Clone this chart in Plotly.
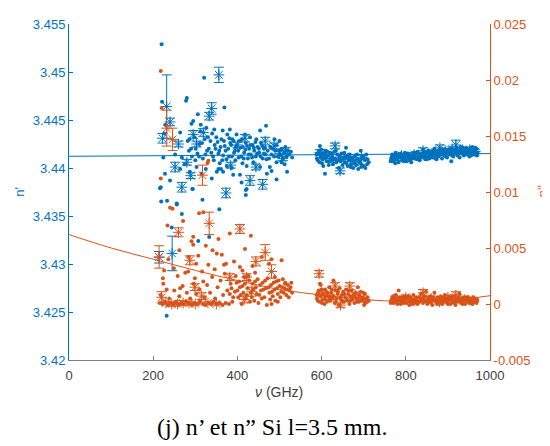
import plotly.graph_objects as go

BLUE = "#0072BD"
ORANGE = "#D95319"

# ---------------- data ----------------
x_ticks = [0, 200, 400, 600, 800, 1000]
x_tick_labels = ["0", "200", "400", "600", "800", "1000"]
n1_ticks = [3.42, 3.425, 3.43, 3.435, 3.44, 3.445, 3.45, 3.455]
n1_tick_labels = ["3.42", "3.425", "3.43", "3.435", "3.44", "3.445", "3.45", "3.455"]
n2_ticks = [-0.005, 0, 0.005, 0.01, 0.015, 0.02, 0.025]
n2_tick_labels = ["-0.005", "0", "0.005", "0.01", "0.015", "0.02", "0.025"]

# fitted curves (GHz, value)
fit_n1_freq = [0, 1000]
fit_n1_val = [3.44122, 3.44150]
fit_n2_freq = [0, 100, 200, 300, 400, 500, 600, 700, 800, 900, 1000]
fit_n2_val = [0.0062, 0.0050, 0.0040, 0.0030, 0.0021, 0.0013, 0.0008, 0.0004, 0.00022, 0.0003, 0.00074]

# n' individual points (GHz, n')
n1_dots = [
    (220, 3.4529), (321, 3.4494), (280, 3.4473), (278, 3.4470), (221, 3.4469), (369, 3.4463),
    (306, 3.4456), (295, 3.4449), (291, 3.4446), (468, 3.4444), (313, 3.4445), (365, 3.4439),
    (454, 3.4439), (264, 3.4437), (229, 3.4445), (226, 3.4436), (398, 3.4435), (418, 3.4435),
    (381, 3.4431), (340, 3.4436), (286, 3.4430), (382, 3.4440),
    (224, 3.4411), (228, 3.4394), (216, 3.4379), (219, 3.4365), (233, 3.4366), (256, 3.4363),
    (317, 3.4367), (357, 3.4357), (294, 3.4378), (240, 3.4387), (339, 3.4389), (351, 3.4396),
    (390, 3.4393), (406, 3.4393), (420, 3.4377), (410, 3.4385), (470, 3.4394), (493, 3.4406),
    (477, 3.4401), (454, 3.4401), (422, 3.4402), (386, 3.4400), (361, 3.4399), (325, 3.4399),
    (303, 3.4401), (264, 3.4399), (275, 3.4404), (287, 3.4396), (315, 3.4394), (268, 3.4411),
    (252, 3.4414), (232, 3.4246), (244, 3.4338), (307, 3.4324), (333, 3.4328), (268, 3.4352),
    (256, 3.4362), (218, 3.4380), (422, 3.4378), (420, 3.4372), (493, 3.4388), (518, 3.4396),
    (481, 3.4397), (355, 3.4399), (366, 3.4396), (293, 3.4378),
    (282, 3.4428), (290, 3.4420), (298, 3.4432), (305, 3.4415), (310, 3.4425), (318, 3.4410),
    (322, 3.4430), (328, 3.4418), (300, 3.4408), (292, 3.4412), (285, 3.4418), (312, 3.4438),
    (326, 3.4442), (332, 3.4420), (336, 3.4428), (342, 3.4412), (346, 3.4424), (350, 3.4432),
    (355, 3.4415), (360, 3.4422), (364, 3.4408), (368, 3.4428), (372, 3.4418), (376, 3.4435),
    (380, 3.4412), (385, 3.4424), (388, 3.4430), (392, 3.4416), (396, 3.4422), (345, 3.4440),
    (358, 3.4405), (375, 3.4402), (395, 3.4408), (402, 3.4418), (405, 3.4428), (409, 3.4412),
    (413, 3.4422), (416, 3.4416), (420, 3.4426), (425, 3.4410), (428, 3.4420), (432, 3.4414),
    (436, 3.4424), (440, 3.4418), (444, 3.4412), (448, 3.4422), (452, 3.4416), (456, 3.4426),
    (460, 3.4410), (463, 3.4420), (467, 3.4414), (430, 3.4432), (445, 3.4430), (412, 3.4405),
    (438, 3.4406), (472, 3.4418), (475, 3.4410), (478, 3.4422), (481, 3.4414), (484, 3.4420),
    (487, 3.4412), (490, 3.4418), (493, 3.4424), (496, 3.4412), (499, 3.4418), (502, 3.4414),
    (505, 3.4420), (508, 3.4410), (511, 3.4416), (514, 3.4422), (517, 3.4412), (520, 3.4418),
    (523, 3.4414), (500, 3.4428), (488, 3.4430), (505, 3.4406), (512, 3.4404), (527, 3.4417),
    (530, 3.4411),
    (301, 3.4420), (309, 3.4412), (316, 3.4426), (324, 3.4414), (330, 3.4432), (338, 3.4416),
    (344, 3.4408), (348, 3.4420), (353, 3.4427), (357, 3.4418), (362, 3.4430), (366, 3.4413),
    (370, 3.4423), (374, 3.4409), (378, 3.4420), (383, 3.4426), (387, 3.4412), (391, 3.4428),
    (394, 3.4418), (399, 3.4424), (403, 3.4411), (407, 3.4421), (411, 3.4430), (415, 3.4410),
    (419, 3.4419), (423, 3.4423), (427, 3.4414), (431, 3.4424), (435, 3.4411), (439, 3.4421),
    (443, 3.4427), (447, 3.4415), (451, 3.4420), (455, 3.4412), (459, 3.4423), (463, 3.4415),
    (466, 3.4421), (469, 3.4409),
    (588, 3.4414), (591, 3.4408), (594, 3.4418), (596, 3.4423), (598, 3.4411), (601, 3.4405),
    (603, 3.4415), (606, 3.4410), (608, 3.4394), (610, 3.4418), (612, 3.4407), (615, 3.4413),
    (617, 3.4403), (620, 3.4416), (622, 3.4409), (625, 3.4412), (627, 3.4404), (630, 3.4417),
    (632, 3.4410), (635, 3.4406), (637, 3.4414), (640, 3.4400), (642, 3.4411), (645, 3.4407),
    (647, 3.4415), (650, 3.4403), (652, 3.4410), (655, 3.4406), (658, 3.4421), (660, 3.4412),
    (662, 3.4402), (665, 3.4408), (667, 3.4414), (670, 3.4404), (672, 3.4410), (675, 3.4400),
    (677, 3.4407), (680, 3.4413), (682, 3.4403), (685, 3.4409), (687, 3.4399), (690, 3.4406),
    (693, 3.4418), (695, 3.4404), (698, 3.4410), (700, 3.4402), (703, 3.4408), (706, 3.4414),
    (708, 3.4404),
    (589, 3.4410), (592, 3.4416), (595, 3.4406), (597, 3.4413), (600, 3.4419), (602, 3.4409),
    (604, 3.4402), (607, 3.4416), (609, 3.4411), (614, 3.4417), (619, 3.4407), (624, 3.4415),
    (629, 3.4409), (634, 3.4418), (639, 3.4408), (644, 3.4413), (649, 3.4409), (654, 3.4416),
    (659, 3.4405), (664, 3.4413), (669, 3.4401), (674, 3.4411), (679, 3.4405), (684, 3.4414),
    (689, 3.4408), (694, 3.4401), (699, 3.4412), (704, 3.4400), (709, 3.4409), (712, 3.4406),
    (765, 3.4410), (768, 3.4414), (771, 3.4407), (773, 3.4412), (776, 3.4416), (778, 3.4409),
    (781, 3.4413), (783, 3.4406), (786, 3.4411), (788, 3.4415), (791, 3.4408), (793, 3.4412),
    (796, 3.4410), (798, 3.4416), (801, 3.4407), (803, 3.4413), (806, 3.4409), (808, 3.4414),
    (811, 3.4411), (813, 3.4406), (816, 3.4412), (818, 3.4416), (821, 3.4410), (823, 3.4414),
    (826, 3.4409), (828, 3.4417), (831, 3.4412), (833, 3.4408), (836, 3.4415), (838, 3.4411),
    (841, 3.4419), (843, 3.4413), (846, 3.4409), (848, 3.4416), (851, 3.4412), (853, 3.4418),
    (856, 3.4410), (858, 3.4414), (861, 3.4417), (863, 3.4411), (866, 3.4415), (868, 3.4420),
    (871, 3.4413), (873, 3.4409), (876, 3.4416), (878, 3.4412), (881, 3.4418), (883, 3.4414),
    (886, 3.4410), (888, 3.4417), (891, 3.4413), (893, 3.4419), (896, 3.4415), (898, 3.4411),
    (901, 3.4418), (903, 3.4414), (906, 3.4420), (908, 3.4407), (911, 3.4416), (913, 3.4412),
    (916, 3.4419), (918, 3.4415), (921, 3.4421), (923, 3.4413), (926, 3.4417), (928, 3.4411),
    (931, 3.4419), (933, 3.4415), (936, 3.4421), (938, 3.4413), (941, 3.4417), (943, 3.4420),
    (946, 3.4414), (948, 3.4418), (951, 3.4412), (953, 3.4420), (956, 3.4416), (958, 3.4422),
    (961, 3.4414), (963, 3.4418), (966, 3.4415), (968, 3.4420), (970, 3.4416),
    (764, 3.4407), (767, 3.4412), (770, 3.4409), (775, 3.4405), (780, 3.4410), (785, 3.4414),
    (790, 3.4411), (795, 3.4407), (800, 3.4413), (805, 3.4415), (810, 3.4408), (815, 3.4410),
    (820, 3.4413), (825, 3.4416), (830, 3.4410), (835, 3.4413), (840, 3.4415), (845, 3.4412),
    (850, 3.4409), (855, 3.4416), (860, 3.4413), (865, 3.4418), (870, 3.4410), (875, 3.4414),
    (880, 3.4416), (885, 3.4419), (890, 3.4415), (895, 3.4412), (900, 3.4416), (905, 3.4417),
    (910, 3.4413), (915, 3.4416), (920, 3.4418), (925, 3.4415), (930, 3.4422), (935, 3.4417),
    (940, 3.4415), (945, 3.4419), (950, 3.4417), (955, 3.4413), (960, 3.4419), (965, 3.4421),
    (969, 3.4413),
]

# n' averaged points with error bars (GHz, n', half-error)
n1_stars = [
    (232, 3.4464, 0.0033), (240, 3.4448, 0.0004), (222, 3.4431, 0.0005), (260, 3.4425, 0.0003),
    (339, 3.4462, 0.0006), (333, 3.4454, 0.0004), (295, 3.4435, 0.0004), (319, 3.4437, 0.0004),
    (303, 3.4425, 0.0003), (418, 3.4431, 0.0004), (466, 3.4428, 0.0004), (487, 3.4423, 0.0003),
    (252, 3.4401, 0.0005), (280, 3.4406, 0.0003), (289, 3.4392, 0.0003), (268, 3.4380, 0.0005),
    (373, 3.4374, 0.0005), (384, 3.4403, 0.0003), (430, 3.4387, 0.0005), (460, 3.4383, 0.0005),
    (444, 3.4401, 0.0003), (400, 3.4424, 0.0003), (356, 3.4497, 0.0008), (214, 3.4307, 0.0006),
    (245, 3.4311, 0.0018), (500, 3.4415, 0.0003), (515, 3.4418, 0.0003), (508, 3.4410, 0.0002),
    (596, 3.4416, 0.0003), (612, 3.4412, 0.0002), (625, 3.4408, 0.0002), (632, 3.4423, 0.0003),
    (644, 3.4397, 0.0003), (655, 3.4412, 0.0002), (668, 3.4409, 0.0002), (680, 3.4406, 0.0002),
    (695, 3.4411, 0.0002), (775, 3.4410, 0.0002), (790, 3.4413, 0.0002), (805, 3.4411, 0.0002),
    (820, 3.4414, 0.0002), (841, 3.4418, 0.0003), (855, 3.4415, 0.0002), (870, 3.4417, 0.0002),
    (881, 3.4421, 0.0003), (895, 3.4418, 0.0002), (910, 3.4420, 0.0002), (919, 3.4424, 0.0005),
    (935, 3.4419, 0.0002), (952, 3.4419, 0.0003), (965, 3.4417, 0.0002),
]

# n'' individual points (GHz, n'')
n2_dots = [
    (218, 0.0208), (220, 0.0175), (331, 0.0128), (329, 0.0126), (218, 0.0112), (240, 0.0086),
    (246, 0.0085), (271, 0.0074), (309, 0.0081), (319, 0.0082), (234, 0.0070), (295, 0.0060),
    (291, 0.0056), (295, 0.0053), (382, 0.0063), (432, 0.0061), (355, 0.0058), (351, 0.0045),
    (341, 0.0048), (418, 0.0049), (307, 0.0043), (283, 0.0029), (331, 0.0035), (368, 0.0035),
    (373, 0.0036), (406, 0.0033), (505, 0.0039), (481, 0.0040), (442, 0.0028), (223, 0.0023),
    (224, 0.0018), (232, 0.0013), (264, 0.0014), (276, 0.0028), (319, 0.0020), (299, 0.0023),
    (489, 0.0024), (513, 0.0018), (481, 0.0000), (496, 0.0002),
    (216, 0.0001), (222, 0.0000), (228, 0.0002), (235, -0.0001), (241, 0.0001), (248, 0.0000),
    (254, 0.0002), (260, -0.0001), (266, 0.0001), (272, 0.0000), (279, 0.0002), (285, 0.0000),
    (292, -0.0001), (298, 0.0001), (305, 0.0000), (311, 0.0002), (318, 0.0000), (324, -0.0001),
    (331, 0.0001), (338, 0.0000), (344, 0.0002), (351, 0.0000), (358, 0.0001), (365, -0.0001),
    (372, 0.0001), (380, 0.0000), (388, 0.0002),
    (218, 0.0008), (226, 0.0030), (238, 0.0005), (250, 0.0012), (258, 0.0025), (262, 0.0007),
    (270, 0.0016), (280, 0.0010), (288, 0.0005), (296, 0.0018), (302, 0.0009), (310, 0.0013),
    (316, 0.0029), (322, 0.0006), (328, 0.0017), (335, 0.0010), (340, 0.0024), (347, 0.0005),
    (353, 0.0015), (360, 0.0021), (366, 0.0008), (370, 0.0027), (376, 0.0012), (384, 0.0018),
    (390, 0.0006), (396, 0.0025),
    (236, 0.0040), (249, 0.0032), (262, 0.0048), (284, 0.0042), (302, 0.0036), (325, 0.0052),
    (346, 0.0031), (363, 0.0044), (392, 0.0038), (412, 0.0030), (436, 0.0034), (458, 0.0042),
    (475, 0.0036),
    (400, 0.0012), (404, 0.0020), (408, 0.0008), (412, 0.0016), (416, 0.0024), (420, 0.0005),
    (424, 0.0014), (428, 0.0021), (432, 0.0010), (436, 0.0018), (440, 0.0003), (444, 0.0015),
    (448, 0.0022), (452, 0.0008), (456, 0.0012), (460, 0.0019), (464, 0.0006), (468, 0.0014),
    (472, 0.0023), (476, 0.0010), (480, 0.0017), (484, 0.0007), (488, 0.0013), (492, 0.0020),
    (496, 0.0009), (500, 0.0016), (504, 0.0011), (508, 0.0022), (512, 0.0014), (516, 0.0008),
    (520, 0.0017), (524, 0.0012), (528, 0.0019), (410, 0.0000), (430, 0.0002), (450, 0.0001),
    (470, -0.0001), (490, 0.0003),
    (382, 0.0009), (386, 0.0014), (394, 0.0011), (398, 0.0019), (402, 0.0006), (406, 0.0015),
    (414, 0.0010), (418, 0.0018), (422, 0.0008), (426, 0.0025), (434, 0.0006), (438, 0.0013),
    (442, 0.0020), (446, 0.0009), (454, 0.0017), (458, 0.0005), (462, 0.0013), (466, 0.0021),
    (474, 0.0015), (478, 0.0004), (482, 0.0011), (486, 0.0019), (494, 0.0014), (498, 0.0021),
    (502, 0.0006), (506, 0.0015), (510, 0.0010), (514, 0.0019), (518, 0.0013), (522, 0.0006),
    (526, 0.0015), (530, 0.0010),
    (588, 0.0008), (591, 0.0003), (593, 0.0012), (596, 0.0018), (598, 0.0017), (601, 0.0001),
    (603, 0.0009), (606, 0.0004), (608, 0.0013), (611, 0.0011), (613, 0.0002), (616, 0.0007),
    (618, 0.0015), (621, 0.0003), (623, 0.0010), (626, 0.0006), (628, 0.0021), (631, 0.0001),
    (633, 0.0012), (636, 0.0005), (638, 0.0009), (641, -0.0001), (643, 0.0014), (646, 0.0004),
    (648, 0.0008), (651, 0.0011), (653, 0.0002), (656, 0.0006), (658, 0.0013), (661, 0.0003),
    (663, 0.0009), (666, 0.0000), (668, 0.0007), (671, 0.0012), (673, 0.0004), (676, 0.0008),
    (678, 0.0001), (681, 0.0010), (683, 0.0005), (686, 0.0015), (688, 0.0002), (691, 0.0007),
    (693, 0.0011), (696, 0.0003), (698, 0.0006), (701, -0.0001), (703, 0.0009), (706, 0.0004),
    (708, 0.0002),
    (589, 0.0005), (592, 0.0010), (595, 0.0002), (597, 0.0007), (600, 0.0013), (602, 0.0004),
    (605, 0.0008), (607, 0.0000), (609, 0.0006), (614, 0.0010), (619, 0.0004), (624, 0.0013),
    (629, 0.0007), (634, 0.0002), (639, 0.0011), (644, 0.0006), (649, 0.0003), (654, 0.0009),
    (659, 0.0005), (664, 0.0012), (669, 0.0003), (674, 0.0006), (679, 0.0009), (684, 0.0002),
    (689, 0.0008), (694, 0.0005), (699, 0.0010), (704, 0.0001), (709, 0.0006), (712, 0.0003),
    (765, 0.0003), (768, 0.0006), (771, 0.0001), (773, 0.0004), (776, 0.0008), (778, 0.0002),
    (781, 0.0005), (783, 0.0012), (786, 0.0003), (788, 0.0000), (791, 0.0006), (793, 0.0002),
    (796, 0.0004), (798, 0.0007), (801, 0.0001), (803, 0.0005), (806, 0.0003), (808, -0.0001),
    (811, 0.0006), (813, 0.0002), (816, 0.0004), (818, 0.0008), (821, 0.0001), (823, 0.0005),
    (826, 0.0003), (828, 0.0000), (831, 0.0006), (833, 0.0002), (836, 0.0009), (838, 0.0004),
    (841, 0.0001), (843, 0.0006), (846, 0.0003), (848, 0.0011), (851, 0.0000), (853, 0.0005),
    (856, 0.0002), (858, 0.0007), (861, 0.0003), (863, -0.0001), (866, 0.0005), (868, 0.0010),
    (871, 0.0002), (873, 0.0004), (876, 0.0006), (878, 0.0001), (881, 0.0003), (883, 0.0007),
    (886, 0.0000), (888, 0.0004), (891, 0.0002), (893, 0.0008), (896, 0.0005), (898, 0.0001),
    (901, 0.0003), (903, 0.0006), (906, 0.0000), (908, 0.0004), (911, 0.0002), (913, 0.0007),
    (916, 0.0003), (918, -0.0001), (921, 0.0005), (923, 0.0002), (926, 0.0004), (928, 0.0009),
    (931, 0.0001), (933, 0.0005), (936, 0.0003), (938, 0.0006), (941, 0.0000), (943, 0.0004),
    (946, 0.0002), (948, 0.0006), (951, 0.0001), (953, 0.0003), (956, 0.0005), (958, 0.0000),
    (961, 0.0004), (963, 0.0002), (966, 0.0005), (968, 0.0001), (970, 0.0003),
    (764, 0.0001), (767, 0.0004), (770, 0.0007), (775, 0.0002), (780, 0.0000), (785, 0.0006),
    (790, 0.0003), (795, 0.0001), (800, 0.0005), (805, 0.0007), (810, 0.0002), (815, 0.0000),
    (820, 0.0004), (825, 0.0006), (830, 0.0002), (835, 0.0005), (840, 0.0003), (845, 0.0007),
    (850, 0.0002), (855, 0.0004), (860, 0.0001), (865, 0.0006), (870, 0.0003), (875, 0.0000),
    (880, 0.0005), (885, 0.0002), (890, 0.0006), (895, 0.0003), (900, 0.0000), (905, 0.0004),
    (910, 0.0006), (915, 0.0001), (920, 0.0003), (925, 0.0006), (930, 0.0002), (935, 0.0000),
    (940, 0.0004), (945, 0.0006), (950, 0.0003), (955, 0.0001), (960, 0.0006), (965, 0.0002),
    (969, 0.0004),
]

# n'' averaged points with error bars (GHz, n'', half-error)
n2_stars = [
    (232, 0.0157, 0.0016), (246, 0.0147, 0.0010), (317, 0.0115, 0.0009), (333, 0.0072, 0.0010),
    (406, 0.0067, 0.0004), (260, 0.0064, 0.0004), (466, 0.0046, 0.0007), (214, 0.0042, 0.0010),
    (287, 0.0039, 0.0004), (444, 0.0038, 0.0004), (481, 0.0029, 0.0006), (382, 0.0024, 0.0003),
    (422, 0.0024, 0.0003), (220, 0.0006, 0.0005), (299, 0.0015, 0.0003), (315, 0.0007, 0.0003),
    (434, 0.0011, 0.0004), (416, 0.0004, 0.0003), (271, 0.0001, 0.0002), (244, 0.0000, 0.0002),
    (230, 0.0001, 0.0001), (258, 0.0000, 0.0001), (285, 0.0001, 0.0001), (300, 0.0000, 0.0001),
    (330, 0.0001, 0.0001), (350, 0.0000, 0.0001), (594, 0.0027, 0.0003), (632, 0.0016, 0.0003),
    (667, 0.0016, 0.0003), (645, -0.0001, 0.0002), (600, 0.0010, 0.0002), (620, 0.0006, 0.0002),
    (680, 0.0008, 0.0002), (700, 0.0004, 0.0002), (780, 0.0004, 0.0002), (800, 0.0006, 0.0002),
    (820, 0.0003, 0.0002), (841, 0.0010, 0.0003), (860, 0.0005, 0.0002), (880, 0.0002, 0.0002),
    (900, 0.0006, 0.0002), (919, 0.0008, 0.0003), (940, 0.0004, 0.0002), (960, 0.0003, 0.0002),
]

# ---------------- figure ----------------
fig = go.Figure()

def col(rows, i):
    return [r[i] for r in rows]

fig.add_trace(go.Scatter(x=fit_n1_freq, y=fit_n1_val, mode="lines",
                         line=dict(color=BLUE, width=1), yaxis="y"))
fig.add_trace(go.Scatter(x=col(n1_dots, 0), y=col(n1_dots, 1), mode="markers",
                         marker=dict(color=BLUE, size=4, line=dict(width=0)), yaxis="y"))
fig.add_trace(go.Scatter(x=col(n1_stars, 0), y=col(n1_stars, 1), mode="markers",
                         marker=dict(symbol="asterisk-open", color=BLUE, size=9,
                                     line=dict(color=BLUE, width=1)),
                         error_y=dict(type="data", array=col(n1_stars, 2), color=BLUE,
                                      thickness=1, width=5), yaxis="y"))

fig.add_trace(go.Scatter(x=fit_n2_freq, y=fit_n2_val, mode="lines",
                         line=dict(color=ORANGE, width=1, shape="spline"), yaxis="y2"))
fig.add_trace(go.Scatter(x=col(n2_dots, 0), y=col(n2_dots, 1), mode="markers",
                         marker=dict(color=ORANGE, size=4, line=dict(width=0)), yaxis="y2"))
fig.add_trace(go.Scatter(x=col(n2_stars, 0), y=col(n2_stars, 1), mode="markers",
                         marker=dict(symbol="asterisk-open", color=ORANGE, size=9,
                                     line=dict(color=ORANGE, width=1)),
                         error_y=dict(type="data", array=col(n2_stars, 2), color=ORANGE,
                                      thickness=1, width=5), yaxis="y2"))

tick_font = dict(family="Liberation Sans, Arial, sans-serif", size=13)

fig.update_layout(
    width=550, height=446,
    margin=dict(l=61, r=68, t=9, b=94),
    paper_bgcolor="white", plot_bgcolor="white",
    showlegend=False,
    xaxis=dict(range=[0, 1000], tickvals=x_ticks, ticktext=x_tick_labels,
               showline=True, linecolor="#7f7f7f", linewidth=1, ticks="inside",
               ticklen=4, tickcolor="#7f7f7f", showgrid=False, zeroline=False,
               ticklabelstandoff=3,
               tickfont=dict(tick_font, color="#404040")),
    yaxis=dict(range=[3.42, 3.455], tickvals=n1_ticks, ticktext=n1_tick_labels,
               showline=True, linecolor=BLUE, linewidth=1, ticks="inside", ticklen=4,
               tickcolor=BLUE, showgrid=False, zeroline=False,
               tickfont=dict(tick_font, color=BLUE)),
    yaxis2=dict(range=[-0.005, 0.025], tickvals=n2_ticks, ticktext=n2_tick_labels,
                overlaying="y", side="right",
                showline=True, linecolor=ORANGE, linewidth=1, ticks="inside", ticklen=4,
                tickcolor=ORANGE, showgrid=False, zeroline=False,
                tickfont=dict(tick_font, color=ORANGE)),
    annotations=[
        dict(text="n'", xref="paper", yref="paper", x=-0.116, y=0.501, showarrow=False,
             textangle=-90, font=dict(tick_font, color=BLUE), xanchor="center", yanchor="middle"),
        dict(text="n''", xref="paper", yref="paper", x=1.125, y=0.501, showarrow=False,
             textangle=-90, font=dict(tick_font, color=ORANGE), xanchor="center", yanchor="middle"),
        dict(text="<i>\u03bd</i> (GHz)", xref="paper", yref="paper", x=0.499, y=-0.096,
             showarrow=False, font=dict(tick_font, size=14, color="#404040"),
             xanchor="center", yanchor="middle"),
        dict(text="(j) n\u2019 et n\u201d Si l=3.5 mm.", xref="paper", yref="paper",
             x=0.482, y=-0.198, showarrow=False,
             font=dict(family="Liberation Serif, Times New Roman, serif", size=24, color="black"),
             xanchor="center", yanchor="middle"),
    ],
)

fig.write_html("out.html")
